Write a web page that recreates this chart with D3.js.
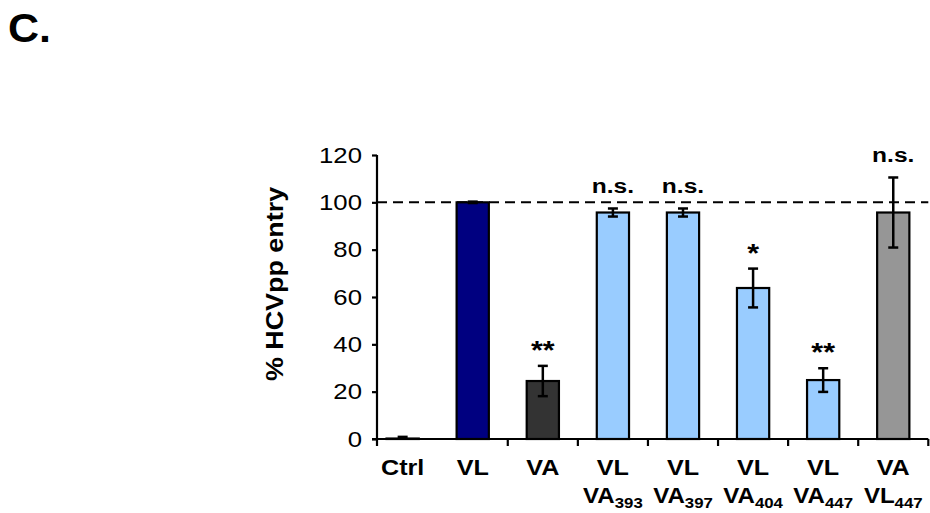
<!DOCTYPE html>
<html>
<head>
<meta charset="utf-8">
<script src="https://cdn.jsdelivr.net/npm/d3@7"></script>
<style>
  body { margin: 0; background: #ffffff; }
  text { font-family: "Liberation Sans", Arial, sans-serif; }
</style>
</head>
<body>
<div id="chart"></div>
<script>
/* Data */
const labelTop = ["Ctrl", "VL", "VA", "VL", "VL", "VL", "VL", "VA"];
const labelBottom = ["", "", "", "VA", "VA", "VA", "VA", "VL"];
const labelSub = ["", "", "", "393", "397", "404", "447", "447"];
const entry = [0.2, 100, 24.5, 95.7, 95.7, 63.8, 24.9, 95.7];
const entryErr = [0.7, 0.3, 6.4, 1.7, 1.7, 8.2, 5.0, 14.8];
const signif = ["", "", "**", "n.s.", "n.s.", "*", "**", "n.s."];
const yTicks = [0, 20, 40, 60, 80, 100, 120];
const refLine = 100;

const barColors = ["#000000", "#000080", "#333333", "#99ccff", "#99ccff", "#99ccff", "#99ccff", "#969696"];

const width = 930;
const height = 513;

const plotLeft = 377;
const plotTop = 155;
const plotBottom = 439;

// the source figure uses slightly wide lettering
const stretch = 1.17;

const data = labelTop.map((d, i) => ({
  key: i,
  top: d,
  bottom: labelBottom[i],
  sub: labelSub[i],
  value: entry[i],
  err: entryErr[i],
  sig: signif[i],
  color: barColors[i]
}));

const svg = d3.select("#chart")
  .append("svg")
  .attr("width", width)
  .attr("height", height)
  .attr("viewBox", `0 0 ${width} ${height}`);

const x = d3.scaleBand()
  .domain(data.map(d => d.key))
  .range([367.6, 928.3])
  .padding(0);

const y = d3.scaleLinear()
  .domain([0, 120])
  .range([plotBottom, plotTop]);

const barWidth = x.bandwidth() * 0.46;
const capWidth = 10;
const cx = d => x(d.key) + x.bandwidth() / 2;

// panel letter
svg.append("text")
  .attr("transform", `translate(8,42) scale(1.05,1)`)
  .attr("font-size", 41)
  .attr("font-weight", "bold")
  .attr("fill", "#000")
  .text("C.");

// reference line at 100 %
svg.append("line")
  .attr("x1", plotLeft)
  .attr("x2", x.range()[1])
  .attr("y1", y(refLine))
  .attr("y2", y(refLine))
  .attr("stroke", "#000")
  .attr("stroke-width", 2)
  .attr("stroke-dasharray", "10,6");

// bars
svg.append("g")
  .selectAll("rect")
  .data(data)
  .join("rect")
    .attr("x", d => cx(d) - barWidth / 2)
    .attr("y", d => y(d.value))
    .attr("width", barWidth)
    .attr("height", d => plotBottom - y(d.value))
    .attr("fill", d => d.color)
    .attr("stroke", "#000")
    .attr("stroke-width", 2.2);

// error bars
const errG = svg.append("g")
  .attr("stroke", "#000")
  .attr("stroke-width", 2.5);

errG.selectAll(".err-v")
  .data(data)
  .join("line")
    .attr("class", "err-v")
    .attr("x1", cx)
    .attr("x2", cx)
    .attr("y1", d => y(d.value + d.err))
    .attr("y2", d => y(Math.max(0, d.value - d.err)));

errG.selectAll(".err-top")
  .data(data)
  .join("line")
    .attr("class", "err-top")
    .attr("x1", d => cx(d) - capWidth / 2)
    .attr("x2", d => cx(d) + capWidth / 2)
    .attr("y1", d => y(d.value + d.err))
    .attr("y2", d => y(d.value + d.err));

errG.selectAll(".err-bot")
  .data(data.filter(d => d.value - d.err > 0))
  .join("line")
    .attr("class", "err-bot")
    .attr("x1", d => cx(d) - capWidth / 2)
    .attr("x2", d => cx(d) + capWidth / 2)
    .attr("y1", d => y(d.value - d.err))
    .attr("y2", d => y(d.value - d.err));

// significance marks
svg.append("g")
  .selectAll("text")
  .data(data.filter(d => d.sig))
  .join("text")
    .attr("transform", d => {
      const star = d.sig.includes("*");
      return `translate(${cx(d)},${y(d.value + d.err) - (star ? 7 : 15)}) scale(${stretch},1)`;
    })
    .attr("text-anchor", "middle")
    .attr("font-size", d => d.sig.includes("*") ? 26 : 21)
    .attr("font-weight", "bold")
    .attr("fill", "#000")
    .text(d => d.sig);

// y axis
const yAxis = d3.axisLeft(y)
  .tickValues(yTicks)
  .tickSize(5)
  .tickPadding(9);

const yG = svg.append("g")
  .attr("transform", `translate(${plotLeft},0)`)
  .call(yAxis);

yG.select(".domain")
  .attr("d", `M0,${plotTop}V${plotBottom}`)
  .attr("stroke-width", 2.2);

yG.selectAll(".tick line")
  .attr("stroke-width", 2.2);

yG.selectAll(".tick text")
  .attr("x", 0)
  .attr("transform", `translate(-15,0) scale(${stretch},1)`)
  .attr("font-family", "Liberation Sans, Arial, sans-serif")
  .attr("font-size", 22)
  .attr("fill", "#000");

// x axis with ticks on category boundaries
const xG = svg.append("g");

xG.append("line")
  .attr("x1", plotLeft - 5)
  .attr("x2", x.range()[1])
  .attr("y1", plotBottom)
  .attr("y2", plotBottom)
  .attr("stroke", "#000")
  .attr("stroke-width", 2.2);

xG.selectAll(".xtick")
  .data(data)
  .join("line")
    .attr("class", "xtick")
    .attr("x1", d => d.key === 0 ? plotLeft : x(d.key) + x.bandwidth())
    .attr("x2", d => d.key === 0 ? plotLeft : x(d.key) + x.bandwidth())
    .attr("y1", plotBottom)
    .attr("y2", plotBottom + 7)
    .attr("stroke", "#000")
    .attr("stroke-width", 2.2);

xG.selectAll(".lab-top")
  .data(data)
  .join("text")
    .attr("class", "lab-top")
    .attr("transform", d => `translate(${cx(d)},475) scale(${stretch},1)`)
    .attr("text-anchor", "middle")
    .attr("font-size", 21.5)
    .attr("font-weight", "bold")
    .attr("fill", "#000")
    .text(d => d.top);

const labBottom = xG.selectAll(".lab-bot")
  .data(data.filter(d => d.bottom))
  .join("text")
    .attr("class", "lab-bot")
    .attr("transform", d => `translate(${cx(d)},503) scale(1.12,1)`)
    .attr("text-anchor", "middle")
    .attr("font-size", 21.5)
    .attr("font-weight", "bold")
    .attr("fill", "#000");

labBottom.append("tspan")
  .text(d => d.bottom);

labBottom.append("tspan")
  .attr("font-size", 15)
  .attr("dy", 5)
  .text(d => d.sub);

// y axis title
svg.append("text")
  .attr("transform", `translate(283,284) rotate(-90) scale(1.17,1)`)
  .attr("text-anchor", "middle")
  .attr("font-size", 23)
  .attr("font-weight", "bold")
  .attr("fill", "#000")
  .text("% HCVpp entry");
</script>
</body>
</html>
